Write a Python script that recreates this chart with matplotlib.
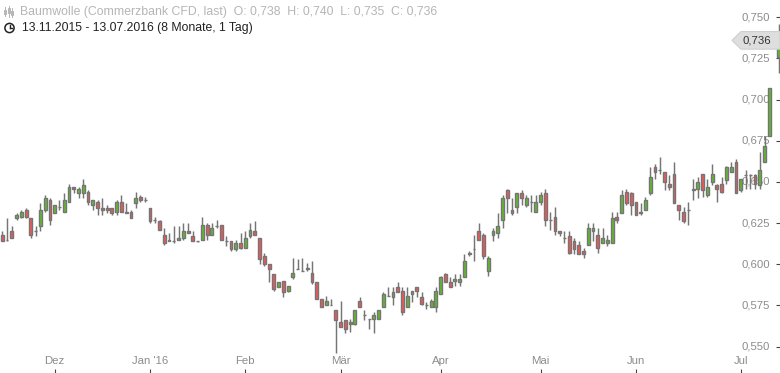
import numpy as np
import matplotlib
matplotlib.use("Agg")
import matplotlib.pyplot as plt
from matplotlib.patches import Rectangle, Polygon, Ellipse
from matplotlib.lines import Line2D
import matplotlib.transforms as mtransforms

# ---------------- data (daily OHLC, Baumwolle CFD) ----------------
nan = float("nan")
opens = [0.618, 0.615, 0.620, 0.628, 0.629, 0.633, 0.628, 0.620, 0.623, 0.633,
         0.639, 0.631, 0.635, 0.632, 0.638, 0.647, 0.643, 0.643, 0.644, 0.636,
         0.638, 0.634, 0.634, 0.634, 0.632, 0.638, 0.632, 0.632, 0.637, 0.641,
         0.639, 0.634, 0.627, 0.626, 0.618, 0.614, 0.614, 0.615, 0.616, 0.620,
         0.617, 0.614, 0.615, 0.624, 0.618, 0.623, 0.624, 0.614, 0.614, 0.609,
         0.613, 0.610, 0.617, 0.620, 0.616, 0.605, 0.600, 0.594, 0.586, 0.590,
         0.584, 0.592, 0.597, 0.596, 0.598, 0.595, 0.589, 0.579, 0.575, 0.575,
         0.572, 0.565, 0.566, 0.564, 0.564, 0.578, 0.569, 0.567, 0.567, 0.567,
         0.574, 0.581, 0.580, 0.586, 0.584, 0.574, 0.582, 0.586, 0.580, 0.575,
         0.574, 0.574, 0.582, 0.594, 0.589, 0.590, 0.589, 0.592, 0.606, 0.609,
         0.620, 0.618, 0.596, 0.618, 0.619, 0.627, 0.645, 0.633, 0.635, 0.643,
         0.636, 0.638, 0.632, 0.638, 0.643, 0.627, 0.629, 0.620, 0.616, 0.617,
         0.614, 0.612, 0.608, 0.612, 0.620, 0.618, 0.613, 0.613, 0.613, 0.629,
         0.631, 0.644, 0.643, 0.638, 0.631, 0.633, 0.643, 0.659, 0.657, 0.656,
         0.649, 0.655, 0.636, 0.632, 0.633, 0.646, 0.646, 0.655, 0.642, 0.650,
         0.648, 0.649, 0.651, 0.656, 0.662, 0.645, 0.654, 0.654, 0.654, 0.648,
         0.662, 0.678, nan, 0.726]
highs = [0.620, 0.628, 0.623, 0.631, 0.633, 0.634, 0.628, 0.623, 0.637, 0.642,
         0.640, 0.636, 0.639, 0.643, 0.649, 0.647, 0.647, 0.652, 0.645, 0.639,
         0.639, 0.640, 0.636, 0.634, 0.639, 0.642, 0.637, 0.633, 0.644, 0.642,
         0.641, 0.634, 0.629, 0.627, 0.622, 0.619, 0.623, 0.623, 0.625, 0.625,
         0.620, 0.614, 0.629, 0.625, 0.625, 0.627, 0.624, 0.617, 0.614, 0.615,
         0.619, 0.620, 0.625, 0.626, 0.616, 0.607, 0.600, 0.594, 0.589, 0.590,
         0.587, 0.604, 0.603, 0.604, 0.601, 0.602, 0.589, 0.579, 0.581, 0.579,
         0.572, 0.578, 0.566, 0.567, 0.572, 0.580, 0.572, 0.567, 0.571, 0.572,
         0.583, 0.586, 0.586, 0.589, 0.586, 0.586, 0.584, 0.586, 0.583, 0.577,
         0.579, 0.586, 0.593, 0.595, 0.592, 0.594, 0.594, 0.606, 0.608, 0.618,
         0.625, 0.619, 0.605, 0.622, 0.631, 0.642, 0.646, 0.640, 0.643, 0.645,
         0.642, 0.642, 0.642, 0.644, 0.646, 0.632, 0.635, 0.620, 0.620, 0.620,
         0.616, 0.614, 0.610, 0.625, 0.625, 0.622, 0.622, 0.618, 0.632, 0.632,
         0.645, 0.646, 0.644, 0.638, 0.637, 0.641, 0.659, 0.661, 0.665, 0.656,
         0.654, 0.662, 0.636, 0.635, 0.638, 0.652, 0.653, 0.655, 0.652, 0.661,
         0.649, 0.653, 0.660, 0.662, 0.664, 0.652, 0.657, 0.655, 0.655, 0.668,
         0.678, 0.707, nan, 0.746]
lows = [0.614, 0.614, 0.616, 0.627, 0.628, 0.628, 0.616, 0.617, 0.620, 0.632,
        0.624, 0.631, 0.633, 0.632, 0.638, 0.643, 0.640, 0.640, 0.636, 0.633,
        0.630, 0.630, 0.631, 0.630, 0.630, 0.632, 0.631, 0.628, 0.634, 0.638,
        0.638, 0.625, 0.625, 0.621, 0.612, 0.614, 0.613, 0.615, 0.615, 0.619,
        0.614, 0.6135, 0.615, 0.615, 0.618, 0.622, 0.615, 0.611, 0.608, 0.608,
        0.609, 0.610, 0.616, 0.618, 0.600, 0.599, 0.589, 0.584, 0.586, 0.580,
        0.583, 0.591, 0.597, 0.596, 0.596, 0.588, 0.579, 0.574, 0.575, 0.575,
        0.546, 0.562, 0.558, 0.559, 0.563, 0.574, 0.566, 0.561, 0.558, 0.567,
        0.574, 0.581, 0.575, 0.583, 0.569, 0.574, 0.577, 0.580, 0.575, 0.573,
        0.574, 0.571, 0.582, 0.589, 0.586, 0.587, 0.587, 0.592, 0.605, 0.602,
        0.615, 0.603, 0.593, 0.614, 0.616, 0.622, 0.631, 0.630, 0.631, 0.636,
        0.635, 0.632, 0.632, 0.636, 0.623, 0.621, 0.618, 0.617, 0.613, 0.606,
        0.606, 0.606, 0.604, 0.612, 0.614, 0.607, 0.613, 0.611, 0.613, 0.625,
        0.631, 0.636, 0.630, 0.630, 0.630, 0.633, 0.642, 0.652, 0.655, 0.645,
        0.645, 0.637, 0.627, 0.625, 0.624, 0.639, 0.640, 0.641, 0.641, 0.648,
        0.638, 0.643, 0.649, 0.656, 0.643, 0.644, 0.646, 0.646, 0.646, 0.646,
        0.662, 0.678, nan, 0.716]
closes = [0.614, 0.615, 0.616, 0.630, 0.632, 0.629, 0.618, 0.620, 0.633, 0.640,
          0.627, 0.636, 0.635, 0.639, 0.647, 0.646, 0.646, 0.648, 0.638, 0.639,
          0.634, 0.633, 0.633, 0.631, 0.638, 0.632, 0.631, 0.628, 0.640, 0.639,
          0.639, 0.626, 0.627, 0.621, 0.613, 0.615, 0.614, 0.616, 0.620, 0.619,
          0.614, 0.614, 0.624, 0.618, 0.622, 0.623, 0.615, 0.614, 0.609, 0.613,
          0.610, 0.616, 0.621, 0.618, 0.603, 0.600, 0.597, 0.585, 0.589, 0.583,
          0.587, 0.595, 0.597, 0.596, 0.597, 0.589, 0.579, 0.574, 0.578, 0.575,
          0.566, 0.562, 0.561, 0.565, 0.572, 0.574, 0.569, 0.567, 0.569, 0.572,
          0.582, 0.581, 0.583, 0.583, 0.571, 0.581, 0.584, 0.584, 0.576, 0.575,
          0.578, 0.584, 0.592, 0.589, 0.586, 0.591, 0.591, 0.602, 0.607, 0.609,
          0.615, 0.605, 0.604, 0.620, 0.623, 0.640, 0.640, 0.631, 0.643, 0.640,
          0.640, 0.638, 0.638, 0.642, 0.627, 0.627, 0.620, 0.619, 0.616, 0.607,
          0.609, 0.606, 0.606, 0.622, 0.622, 0.610, 0.616, 0.615, 0.628, 0.627,
          0.642, 0.637, 0.636, 0.630, 0.632, 0.639, 0.653, 0.656, 0.657, 0.650,
          0.647, 0.637, 0.633, 0.626, 0.633, 0.645, 0.650, 0.645, 0.647, 0.655,
          0.646, 0.644, 0.659, 0.659, 0.643, 0.652, 0.654, 0.654, 0.649, 0.657,
          0.672, 0.707, nan, 0.736]

month_labels = ["Dez", "Jan '16", "Feb", "Mär", "Apr", "Mai", "Jun", "Jul"]
month_pos = [11, 31, 51, 71, 92, 113, 133, 155]   # trading-day index of month start
y_ticks = [0.550, 0.575, 0.600, 0.625, 0.650, 0.675, 0.700, 0.725, 0.750]
last_price = 0.736
title_line = "Baumwolle (Commerzbank CFD, last)  O: 0,738  H: 0,740  L: 0,735  C: 0,736"
range_line = "13.11.2015 - 13.07.2016 (8 Monate, 1 Tag)"

# ---------------- style ----------------
W, H = 780, 373
plt.rcParams["font.family"] = ["Liberation Sans", "DejaVu Sans"]
UP = "#5fba2c"
DOWN = "#ef5757"
EDGE = "#757575"
LABEL = "#8c8c8c"

fig = plt.figure(figsize=(W / 100, H / 100), dpi=100)
ax = fig.add_axes([0, 0, 1, 1])
ax.set_xlim(-0.483, 163.24)
ax.set_ylim(0.5340, 0.7605)
for s in ax.spines.values():
    s.set_visible(False)
ax.patch.set_facecolor("white")

# candles
bw = 0.6
for i in range(len(opens)):
    o, h, l, c = opens[i], highs[i], lows[i], closes[i]
    if not np.isfinite(o):
        continue
    ax.add_line(Line2D([i, i], [l, h], color=EDGE, lw=1.05, zorder=3,
                       solid_capstyle="butt"))
    if c > o:
        fc = UP
    elif c < o:
        fc = DOWN
    else:
        fc = EDGE
    ax.add_patch(Rectangle((i - bw / 2, min(o, c)), bw, abs(c - o),
                           facecolor=fc, edgecolor=EDGE, lw=1.0, zorder=4))

# axis ticks
ax.set_xticks(month_pos)
ax.set_yticks(y_ticks)
ax.yaxis.tick_right()
ax.tick_params(axis="x", direction="in", length=3.0, width=0.8, color="#444444",
               labelbottom=False, bottom=True, top=False)
ax.tick_params(axis="y", direction="in", length=3.0, width=0.8, color="#444444",
               labelright=False, right=True, left=False)

ytrans = mtransforms.blended_transform_factory(ax.transAxes, ax.transData)
for v in y_ticks:
    ax.text(770 / W, v, f"{v:.3f}".replace(".", ","), transform=ytrans,
            ha="right", va="center", fontsize=8.2, color=LABEL, zorder=2)

xtrans = mtransforms.blended_transform_factory(ax.transData, ax.transAxes)
for p, lab in zip(month_pos, month_labels):
    ax.text(p, 1 - 360.5 / H, lab, transform=xtrans, ha="center", va="center",
            fontsize=8.2, color=LABEL, zorder=2)

# last-price marker
yr = ax.get_ylim()[1] - ax.get_ylim()[0]
hh = 8.8 / H * yr
verts = [(732 / W, last_price), (741 / W, last_price + hh), (1.0, last_price + hh),
         (1.0, last_price - hh), (741 / W, last_price - hh)]
ax.add_patch(Polygon(verts, closed=True, transform=ytrans, facecolor="#dedede",
                     edgecolor="#cfcfcf", lw=0.8, zorder=6, clip_on=False))
ax.text(757 / W, last_price, f"{last_price:.3f}".replace(".", ","), transform=ytrans,
        ha="center", va="center", fontsize=8.2, color="#333333", zorder=7)

# header
def fx(x):
    return x / W

def fy(y):
    return 1 - y / H

fig.text(fx(20.5), fy(12), title_line, ha="left", va="center", fontsize=8.8,
         color="#b5b5b5")
fig.text(fx(21.5), fy(28), range_line, ha="left", va="center", fontsize=8.8,
         color="#222222")

# small chart icon
icon_c = "#b5b5b5"
for xx, y0, y1, b0, b1 in [(5, 7, 16, 10, 14), (8.5, 6, 17, 8, 13), (12, 8, 17, 11, 15)]:
    fig.add_artist(Line2D([fx(xx), fx(xx)], [fy(y0), fy(y1)], color=icon_c, lw=0.7))
    fig.add_artist(Rectangle((fx(xx - 1), fy(b1)), 2 / W, (b1 - b0) / H,
                             transform=fig.transFigure, facecolor="white",
                             edgecolor=icon_c, lw=0.7))

# clock icon
cx, cy, r = 9.5, 28, 4.6
fig.add_artist(Ellipse((fx(cx), fy(cy)), 2 * r / W, 2 * r / H, transform=fig.transFigure,
                       facecolor="none", edgecolor="#222222", lw=1.1))
fig.add_artist(Line2D([fx(cx), fx(cx)], [fy(cy), fy(cy - 3)], color="#222222", lw=1.0))
fig.add_artist(Line2D([fx(cx), fx(cx + 2.3)], [fy(cy), fy(cy)], color="#222222", lw=1.0))

fig.savefig("out.png", dpi=100, facecolor="white")
